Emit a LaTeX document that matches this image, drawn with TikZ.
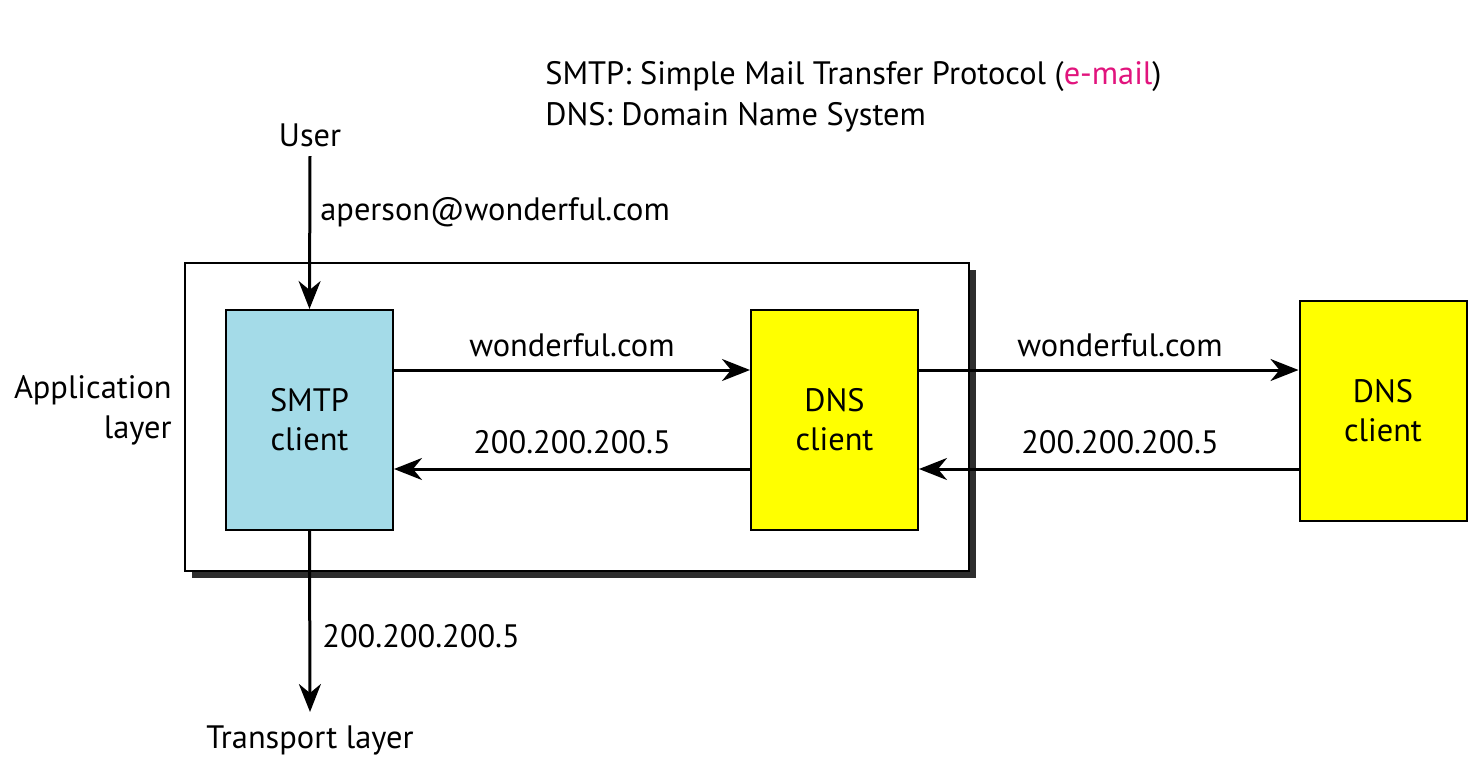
\documentclass[tikz,border=0pt]{standalone}
\usepackage{fontspec}
\setmainfont{PT Sans}
\usetikzlibrary{arrows.meta}
\definecolor{smtpblue}{RGB}{164,219,232}
\definecolor{dnsyellow}{RGB}{255,255,0}
\definecolor{mailpink}{RGB}{225,20,125}
\definecolor{shadowgray}{RGB}{45,45,45}
\begin{document}
\begin{tikzpicture}[x=0.5pt,y=-0.5pt,
  txt/.style={font=\fontsize{16.2pt}{20pt}\selectfont, inner sep=0pt},
  blk/.style={draw=black, line width=1pt, minimum width=83.5pt, minimum height=110pt, inner sep=0pt, align=center, font=\fontsize{16.2pt}{19.5pt}\selectfont},
  conn/.style={line width=1.5pt, -{Stealth[length=14pt,width=11pt,inset=4.5pt]}}
]
\useasboundingbox (0,0) rectangle (1480,768);
% outer application box with shadow
\fill[shadowgray] (192,270) rectangle (976,578);
\draw[line width=1.1pt, fill=white] (185,263) rectangle (969,571);
% blocks
\node[blk, fill=smtpblue] (smtp) at (309.5,420) {SMTP\\client};
\node[blk, fill=dnsyellow] (dnsa) at (834.5,420) {DNS\\client};
\node[blk, fill=dnsyellow] (dnsb) at (1383,411) {DNS\\client};
% header
\node[txt, anchor=west] (h1) at (545,77) {SMTP: Simple Mail Transfer Protocol (\textcolor{mailpink}{e-mail})};
\node[txt, anchor=west] (h2) at (545,117) {DNS: Domain Name System};
% user and transport
\node[txt] (user) at (310,135) {User};
\coordinate (ustart) at (310,156);
\node[txt] (trans) at (310,740) {Transport layer};
\coordinate (tend) at (310,712);
\node[txt, align=right, anchor=east] (app) at (172,410) {Application\\layer};
% connectors
\draw[conn] (ustart) -- (smtp.north);
\node[txt, anchor=west] (lab1) at (320,212) {aperson@wonderful.com};
\draw[conn] (smtp.south) -- (tend);
\node[txt, anchor=west] (lab2) at (322,636) {200.200.200.5};
\draw[conn] (smtp.east |- 0,370) -- (dnsa.west |- 0,370);
\node[txt] (lab3) at (572,345) {wonderful.com};
\draw[conn] (dnsa.west |- 0,469) -- (smtp.east |- 0,469);
\node[txt] (lab4) at (572,442) {200.200.200.5};
\draw[conn] (dnsa.east |- 0,370) -- (dnsb.west |- 0,370);
\node[txt] (lab5) at (1120,345) {wonderful.com};
\draw[conn] (dnsb.west |- 0,469) -- (dnsa.east |- 0,469);
\node[txt] (lab6) at (1120,442) {200.200.200.5};
\end{tikzpicture}
\end{document}
